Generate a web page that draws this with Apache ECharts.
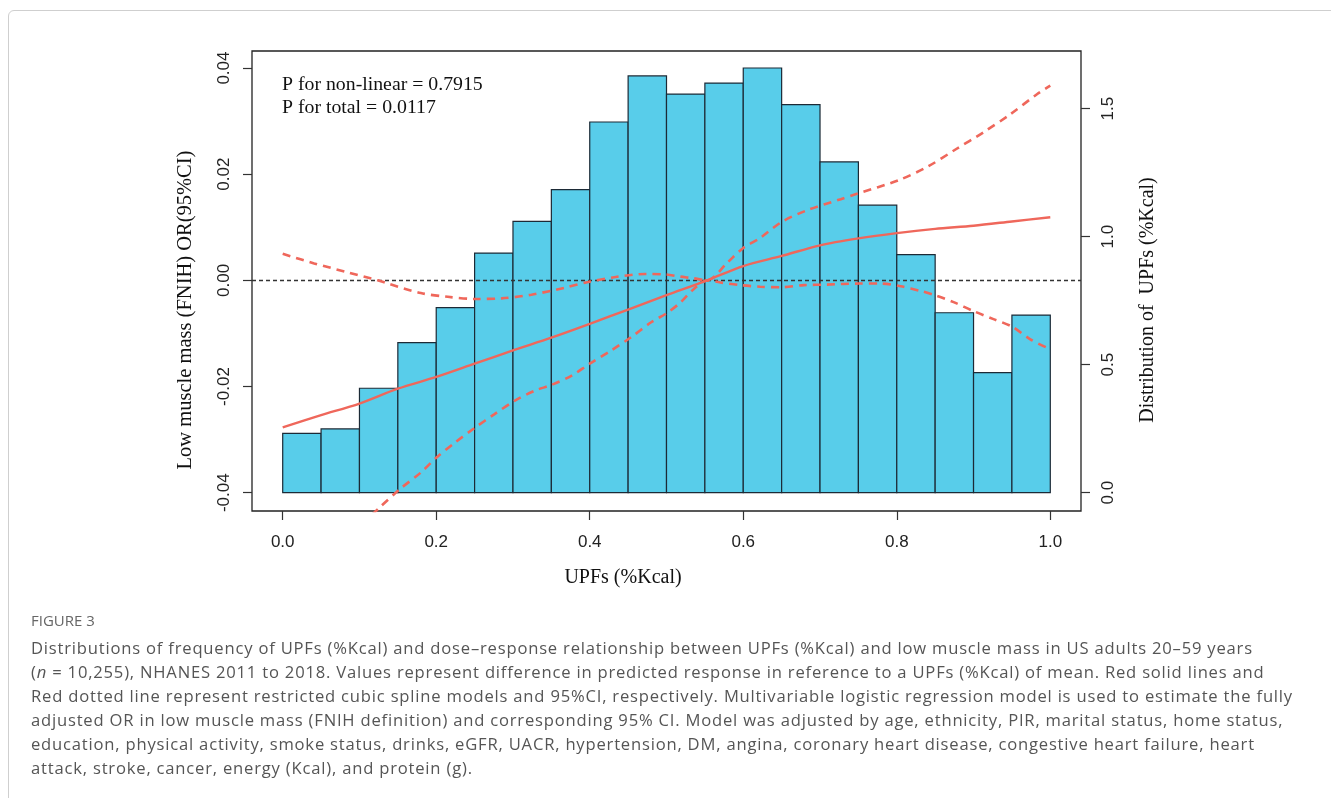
<!DOCTYPE html>
<html>
<head>
<meta charset="utf-8">
<script src="https://cdn.jsdelivr.net/npm/echarts@6/dist/echarts.min.js"></script>
<style>
html,body{margin:0;padding:0;background:#fff;}
#wrap{position:relative;width:1331px;height:798px;overflow:hidden;background:#fff;}
#card{position:absolute;left:8px;top:10px;width:1360px;height:820px;border:1px solid #cfcfcf;border-radius:6px;box-sizing:border-box;}
#chart{position:absolute;left:0;top:0;width:1331px;height:798px;}
.cap{position:absolute;left:31px;font-family:'Open Sans',Lato,sans-serif;color:#555;white-space:nowrap;font-size:16.6px;line-height:24px;}
#fig{top:608px;font-size:15px;color:#666;}
</style>
</head>
<body>
<div id="wrap">
  <div id="card"></div>
  <div id="chart"></div>
  <div id="fig" class="cap">FIGURE 3</div>
  <div class="cap line" style="top:636px">Distributions of frequency of UPFs (%Kcal) and dose–response relationship between UPFs (%Kcal) and low muscle mass in US adults 20–59 years</div>
  <div class="cap line" style="top:660px">(<i>n</i> = 10,255), NHANES 2011 to 2018. Values represent difference in predicted response in reference to a UPFs (%Kcal) of mean. Red solid lines and</div>
  <div class="cap line" id="ref3" style="top:684px">Red dotted line represent restricted cubic spline models and 95%CI, respectively. Multivariable logistic regression model is used to estimate the fully</div>
  <div class="cap line" style="top:708px">adjusted OR in low muscle mass (FNIH definition) and corresponding 95% CI. Model was adjusted by age, ethnicity, PIR, marital status, home status,</div>
  <div class="cap line" style="top:732px">education, physical activity, smoke status, drinks, eGFR, UACR, hypertension, DM, angina, coronary heart disease, congestive heart failure, heart</div>
  <div class="cap line" style="top:756px">attack, stroke, cancer, energy (Kcal), and protein (g).</div>
</div>
<script>
// ---- data ----
const binEdges = [0.00,0.05,0.10,0.15,0.20,0.25,0.30,0.35,0.40,0.45,0.50,0.55,0.60,0.65,0.70,0.75,0.80,0.85,0.90,0.95,1.00];
const density = [0.232,0.249,0.408,0.586,0.723,0.936,1.060,1.184,1.448,1.628,1.557,1.600,1.659,1.516,1.292,1.123,0.930,0.703,0.469,0.694];

const fitX = [0,0.05,0.10,0.15,0.20,0.25,0.30,0.35,0.40,0.45,0.50,0.553,0.60,0.65,0.70,0.75,0.80,0.85,0.90,0.95,1.00];
const fitY = [-0.0277,-0.0254,-0.0232,-0.0204,-0.0182,-0.0157,-0.0132,-0.0108,-0.0082,-0.0055,-0.0028,0.0000,0.0027,0.0046,0.0066,0.0079,0.0089,0.0097,0.0103,0.0111,0.0119];

const upperX = [0,0.041,0.085,0.124,0.137,0.180,0.215,0.250,0.285,0.324,0.367,0.398,0.432,0.472,0.500,0.518,0.535,0.553,0.579,0.600,0.622,0.650,0.683,0.727,0.748,0.803,0.840,0.877,0.913,0.948,0.983,1.000];
const upperY = [0.0050,0.0032,0.0015,0.0000,-0.0006,-0.0024,-0.0031,-0.0035,-0.0034,-0.0027,-0.0014,-0.0003,0.0006,0.0012,0.0011,0.0007,0.0004,0.0000,0.0033,0.0061,0.0080,0.0110,0.0132,0.0153,0.0163,0.0189,0.0214,0.0247,0.0279,0.0313,0.0351,0.0367];

const lowerX = [0.090,0.124,0.152,0.180,0.200,0.224,0.250,0.276,0.302,0.328,0.350,0.376,0.400,0.428,0.454,0.480,0.500,0.518,0.535,0.553,0.570,0.596,0.622,0.650,0.679,0.709,0.751,0.779,0.805,0.831,0.850,0.874,0.900,0.926,0.950,0.974,1.000];
const lowerY = [-0.0478,-0.0431,-0.0394,-0.0362,-0.0334,-0.0306,-0.0278,-0.0252,-0.0227,-0.0208,-0.0197,-0.0180,-0.0157,-0.0132,-0.0107,-0.0079,-0.0062,-0.0042,-0.0017,0.0000,-0.0004,-0.0009,-0.0012,-0.0013,-0.0009,-0.0008,-0.0006,-0.0006,-0.0011,-0.0020,-0.0028,-0.0041,-0.0058,-0.0073,-0.0087,-0.0111,-0.0130];

const xTicks = [0.0,0.2,0.4,0.6,0.8,1.0];
const leftTicks = [-0.04,-0.02,0.00,0.02,0.04];
const rightTicks = [0.0,0.5,1.0,1.5];

const pText = ['P for non-linear = 0.7915','P for total = 0.0117'];
const xTitle = 'UPFs (%Kcal)';
const yLeftTitle = 'Low muscle mass (FNIH) OR(95%CI)';
const yRightTitle = 'Distribution of  UPFs (%Kcal)';

// ---- caption spacing fit (style only) ----
(function () {
  const ref = document.getElementById('ref3');
  const natural = ref.getBoundingClientRect().width;
  const chars = ref.textContent.length;
  const target = 1262;
  const ls = Math.max(-1, Math.min(2, (target - natural) / chars));
  document.querySelectorAll('.line').forEach(el => { el.style.letterSpacing = ls.toFixed(3) + 'px'; });
})();

// ---- build ----
const zip = (xs, ys) => xs.map((x, i) => [x, ys[i]]);
const histData = density.map((d, i) => [binEdges[i], binEdges[i + 1], d]);

const RED = '#EF675B';
const labelFont = {fontFamily: '"Liberation Sans", Arial, sans-serif', fontSize: 17, color: '#222'};
const serif = '"Liberation Serif", "Times New Roman", serif';

const chart = echarts.init(document.getElementById('chart'), null, {renderer: 'canvas'});
chart.setOption({
  animation: false,
  backgroundColor: 'transparent',
  grid: {left: 252, top: 51, width: 829, height: 460, show: true, borderColor: '#222', borderWidth: 1.3, backgroundColor: 'transparent'},
  xAxis: {
    type: 'value', min: -0.04, max: 1.04, position: 'bottom',
    axisLine: {show: false, onZero: false},
    splitLine: {show: false},
    axisTick: {show: true, inside: false, length: 9, customValues: xTicks, lineStyle: {color: '#333', width: 1.2}},
    axisLabel: Object.assign({customValues: xTicks, margin: 23, formatter: v => v.toFixed(1)}, labelFont)
  },
  yAxis: [
    {
      type: 'value', position: 'left', min: -0.04345, max: 0.04321,
      axisLine: {show: false, onZero: false}, splitLine: {show: false},
      axisTick: {show: true, length: 9, customValues: leftTicks, lineStyle: {color: '#333', width: 1.2}},
      axisLabel: Object.assign({customValues: leftTicks, rotate: 90, margin: 19, formatter: v => v.toFixed(2)}, labelFont)
    },
    {
      type: 'value', position: 'right', min: -0.0715, max: 1.7254,
      axisLine: {show: false, onZero: false}, splitLine: {show: false},
      axisTick: {show: true, length: 9, customValues: rightTicks, lineStyle: {color: '#333', width: 1.2}},
      axisLabel: Object.assign({customValues: rightTicks, rotate: 90, margin: 19, formatter: v => v.toFixed(1)}, labelFont)
    }
  ],
  series: [
    {
      type: 'custom', xAxisIndex: 0, yAxisIndex: 1, data: histData, z: 1,
      renderItem: function (params, api) {
        const p0 = api.coord([api.value(0), 0]);
        const p1 = api.coord([api.value(1), api.value(2)]);
        return {
          type: 'rect',
          shape: {x: p0[0], y: p1[1], width: p1[0] - p0[0], height: p0[1] - p1[1]},
          style: {fill: '#58CDEA', stroke: '#1c2a36', lineWidth: 1.2}
        };
      }
    },
    {
      type: 'line', yAxisIndex: 0, data: zip(fitX, fitY), z: 4, symbol: 'none', smooth: 0.3,
      lineStyle: {color: RED, width: 2.4},
      markLine: {
        silent: true, symbol: 'none', label: {show: false},
        lineStyle: {color: '#333', type: [4, 3], width: 1.3},
        data: [{yAxis: 0}]
      }
    },
    {
      type: 'line', yAxisIndex: 0, data: zip(upperX, upperY), z: 5, symbol: 'none', smooth: 0.3, clip: true,
      lineStyle: {color: RED, width: 2.6, type: [8, 6]}
    },
    {
      type: 'line', yAxisIndex: 0, data: zip(lowerX, lowerY), z: 5, symbol: 'none', smooth: 0.3, clip: true,
      lineStyle: {color: RED, width: 2.6, type: [8, 6]}
    }
  ],
  graphic: [
    {type: 'text', x: 282, y: 75, z: 10, style: {text: pText[0], font: '19.8px ' + serif, fill: '#111', textAlign: 'left', textVerticalAlign: 'top'}},
    {type: 'text', x: 282, y: 98, z: 10, style: {text: pText[1], font: '19.8px ' + serif, fill: '#111', textAlign: 'left', textVerticalAlign: 'top'}},
    {type: 'text', x: 623, y: 578, z: 10, style: {text: xTitle, font: '20px ' + serif, fill: '#111', textAlign: 'center', textVerticalAlign: 'middle'}},
    {type: 'text', x: 186, y: 310, rotation: Math.PI / 2, z: 10, style: {text: yLeftTitle, font: '20.5px ' + serif, fill: '#111', textAlign: 'center', textVerticalAlign: 'middle'}},
    {type: 'text', x: 1148, y: 300, rotation: Math.PI / 2, z: 10, style: {text: yRightTitle, font: '20px ' + serif, fill: '#111', textAlign: 'center', textVerticalAlign: 'middle'}}
  ]
});
</script>
</body>
</html>
